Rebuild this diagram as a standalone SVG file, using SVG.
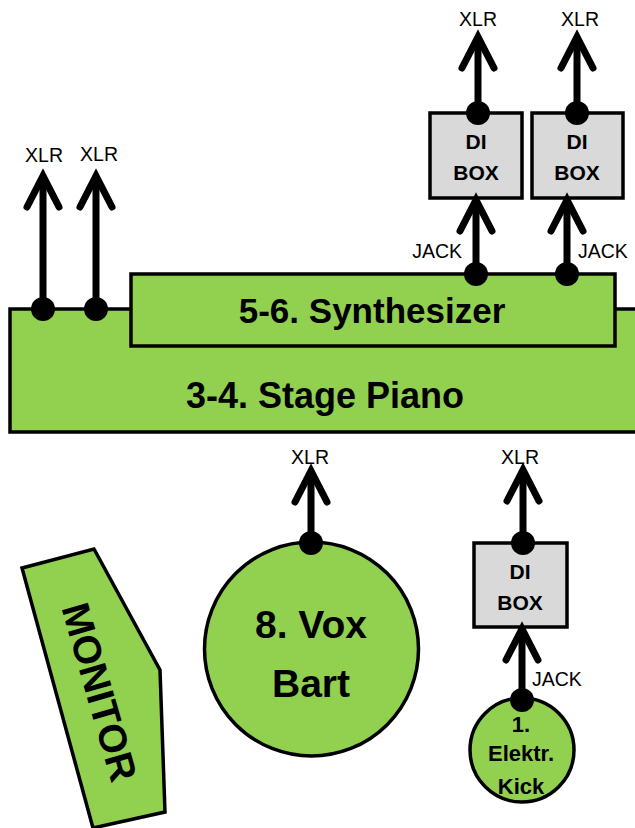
<svg xmlns="http://www.w3.org/2000/svg" width="635" height="828" viewBox="0 0 635 828">
<style>
.g{fill:#92D050;stroke:#000;stroke-width:3.5}
.di{fill:#D9D9D9;stroke:#000;stroke-width:3.5}
.c{stroke:#000;stroke-width:7;fill:none}
.dot{fill:#000}
.lab{font-family:"Liberation Sans",Arial,sans-serif;font-size:19.5px;fill:#000}
.b{font-family:"Liberation Sans",Arial,sans-serif;font-weight:bold;fill:#000;text-anchor:middle}
</style>
<defs>
<marker id="ah" markerUnits="userSpaceOnUse" orient="auto" refX="0" refY="0" markerWidth="40" markerHeight="40" overflow="visible">
<path d="M-31,-16 L0,0 L-31,16" fill="none" stroke="#000" stroke-width="7" stroke-linecap="round" stroke-linejoin="miter"/>
</marker>
</defs>
<rect width="635" height="828" fill="#fff"/>
<g id="piano">
<rect class="g" x="10" y="309" width="640" height="123"/>
<text class="b" x="325" y="408" font-size="36">3-4. Stage Piano</text>
</g>
<g id="synth">
<rect class="g" x="131" y="274" width="484" height="72"/>
<text class="b" x="372" y="323" font-size="35">5-6. Synthesizer</text>
</g>
<g id="di1">
<rect class="di" x="430" y="113" width="92" height="85"/>
<text class="b" x="476" y="149" font-size="21">DI</text>
<text class="b" x="476" y="180" font-size="21">BOX</text>
</g>
<g id="di2">
<rect class="di" x="532" y="113" width="91" height="85"/>
<text class="b" x="577" y="149" font-size="21">DI</text>
<text class="b" x="577" y="180" font-size="21">BOX</text>
</g>
<g id="di3">
<rect class="di" x="474" y="543" width="93" height="84"/>
<text class="b" x="520" y="579" font-size="21">DI</text>
<text class="b" x="520" y="610" font-size="21">BOX</text>
</g>
<g id="vox">
<circle class="g" cx="311.5" cy="649" r="107"/>
<text class="b" x="311" y="638" font-size="39">8. Vox</text>
<text class="b" x="311" y="697" font-size="39">Bart</text>
</g>
<g id="kick">
<circle class="g" cx="522" cy="750" r="52"/>
<text class="b" x="521" y="732" font-size="22">1.</text>
<text class="b" x="521" y="761" font-size="22">Elektr.</text>
<text class="b" x="521" y="794" font-size="22">Kick</text>
</g>
<g id="monitor">
<polygon class="g" points="22,568 94,549 160,670 165,812 93,828"/>
<text class="b" transform="translate(100,692) rotate(74)" font-size="39" dy="14">MONITOR</text>
</g>
<g id="connectors">
<path class="c" d="M43,309 V176" marker-end="url(#ah)"/>
<path class="c" d="M96,309 V176" marker-end="url(#ah)"/>
<path class="c" d="M476,274 V200" marker-end="url(#ah)"/>
<path class="c" d="M567,274 V200" marker-end="url(#ah)"/>
<path class="c" d="M478,113 V37" marker-end="url(#ah)"/>
<path class="c" d="M577,113 V37" marker-end="url(#ah)"/>
<path class="c" d="M311,543 V471" marker-end="url(#ah)"/>
<path class="c" d="M523,543 V470" marker-end="url(#ah)"/>
<path class="c" d="M522,700 V629" marker-end="url(#ah)"/>
<circle class="dot" cx="43" cy="309" r="12"/>
<circle class="dot" cx="96" cy="309" r="12"/>
<circle class="dot" cx="476" cy="274" r="12"/>
<circle class="dot" cx="567" cy="274" r="12"/>
<circle class="dot" cx="478" cy="113" r="12"/>
<circle class="dot" cx="577" cy="113" r="12"/>
<circle class="dot" cx="311" cy="543" r="12"/>
<circle class="dot" cx="523" cy="543" r="12"/>
<circle class="dot" cx="522" cy="700" r="12"/>
</g>
<g id="labels">
<text class="lab" x="44" y="162" text-anchor="middle">XLR</text>
<text class="lab" x="99" y="161" text-anchor="middle">XLR</text>
<text class="lab" x="478" y="26" text-anchor="middle">XLR</text>
<text class="lab" x="580" y="26" text-anchor="middle">XLR</text>
<text class="lab" x="462" y="258" text-anchor="end">JACK</text>
<text class="lab" x="578" y="258">JACK</text>
<text class="lab" x="310" y="464" text-anchor="middle">XLR</text>
<text class="lab" x="520" y="464" text-anchor="middle">XLR</text>
<text class="lab" x="532" y="686">JACK</text>
</g>
</svg>
